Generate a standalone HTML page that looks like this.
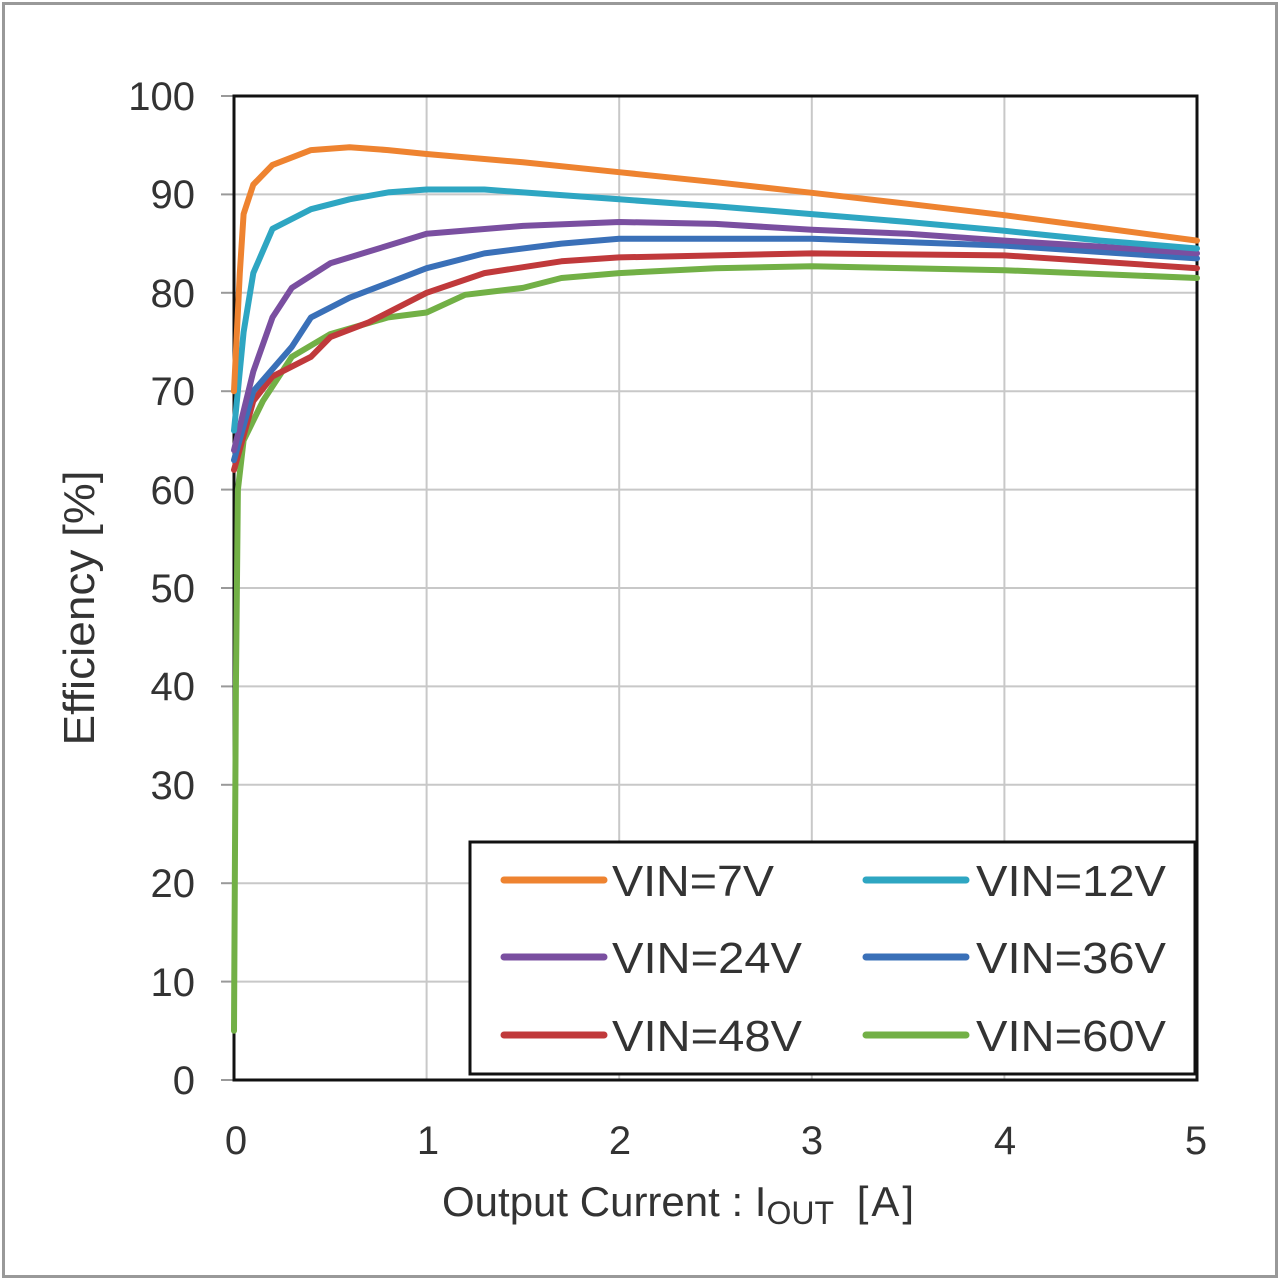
<!DOCTYPE html>
<html><head><meta charset="utf-8"><style>
html,body{margin:0;padding:0;background:#fff}
svg{display:block}
text{font-family:"Liberation Sans",sans-serif;fill:#333}
</style></head><body>
<svg width="1280" height="1280" viewBox="0 0 1280 1280" xmlns="http://www.w3.org/2000/svg">
<rect x="3.5" y="3.5" width="1273" height="1273" fill="#fff" stroke="#999" stroke-width="3"/>
<g stroke="#c8c8c8" stroke-width="2">
<line x1="234" y1="194.4" x2="1197" y2="194.4"/>
<line x1="234" y1="292.8" x2="1197" y2="292.8"/>
<line x1="234" y1="391.2" x2="1197" y2="391.2"/>
<line x1="234" y1="489.6" x2="1197" y2="489.6"/>
<line x1="234" y1="588" x2="1197" y2="588"/>
<line x1="234" y1="686.4" x2="1197" y2="686.4"/>
<line x1="234" y1="784.8" x2="1197" y2="784.8"/>
<line x1="234" y1="883.2" x2="1197" y2="883.2"/>
<line x1="234" y1="981.6" x2="1197" y2="981.6"/>
<line x1="426.6" y1="96" x2="426.6" y2="1080"/>
<line x1="619.2" y1="96" x2="619.2" y2="1080"/>
<line x1="811.8" y1="96" x2="811.8" y2="1080"/>
<line x1="1004.4" y1="96" x2="1004.4" y2="1080"/>
</g>
<g stroke="#999" stroke-width="2">
<line x1="221" y1="96" x2="234" y2="96"/><line x1="221" y1="194.4" x2="234" y2="194.4"/><line x1="221" y1="292.8" x2="234" y2="292.8"/><line x1="221" y1="391.2" x2="234" y2="391.2"/><line x1="221" y1="489.6" x2="234" y2="489.6"/><line x1="221" y1="588" x2="234" y2="588"/><line x1="221" y1="686.4" x2="234" y2="686.4"/><line x1="221" y1="784.8" x2="234" y2="784.8"/><line x1="221" y1="883.2" x2="234" y2="883.2"/><line x1="221" y1="981.6" x2="234" y2="981.6"/><line x1="221" y1="1080" x2="234" y2="1080"/>
</g>
<rect x="234" y="96" width="963" height="984" fill="none" stroke="#111" stroke-width="3"/>
<g fill="none" stroke-width="6" stroke-linejoin="round" stroke-linecap="round">
<polyline stroke="#72b046" points="234,1030.8 235.9,686.4 237.9,489.6 243.6,440.4 262.9,401 291.8,356.8 330.3,334.1 388.1,317.4 426.6,312.5 465.1,294.8 522.9,287.9 561.4,278 619.2,273.1 715.5,268.2 811.8,266.3 908.1,268.2 1004.4,270.2 1197,278"/>
<polyline stroke="#c0393b" points="234,469.9 253.3,401 272.5,376.4 311,356.8 330.3,337.1 368.8,322.3 426.6,292.8 484.4,273.1 561.4,261.3 619.2,257.4 811.8,253.4 1004.4,255.4 1197,268.2"/>
<polyline stroke="#3a70b8" points="234,460.1 253.3,391.2 291.8,346.9 311,317.4 349.6,297.7 388.1,283 426.6,268.2 484.4,253.4 561.4,243.6 619.2,238.7 811.8,238.7 1004.4,245.6 1197,258.4"/>
<polyline stroke="#7a4fa0" points="234,450.2 253.3,371.5 272.5,317.4 291.8,287.9 330.3,263.3 368.8,251.5 426.6,233.8 522.9,225.9 619.2,222 715.5,223.9 811.8,229.8 908.1,233.8 1004.4,240.6 1100.7,246.6 1197,253.4"/>
<polyline stroke="#2ea6c2" points="234,430.6 243.6,332.2 253.3,273.1 272.5,228.8 311,209.2 349.6,199.3 388.1,192.4 426.6,189.5 484.4,189.5 522.9,192.4 619.2,199.3 715.5,206.2 811.8,214.1 908.1,222 1004.4,230.8 1100.7,240.6 1197,248.5"/>
<polyline stroke="#ee8330" points="234,391.2 239.8,273.1 243.6,214.1 253.3,184.6 272.5,164.9 311,150.1 349.6,147.2 388.1,150.1 426.6,154 522.9,162.3 619.2,172.2 715.5,182.2 811.8,192.8 908.1,203.8 1004.4,215.2 1100.7,227.9 1197,240.6"/>
</g>
<rect x="470" y="842" width="725" height="232" fill="#fff" stroke="#111" stroke-width="3"/>
<g stroke-width="7" stroke-linecap="round">
<line x1="504" y1="880" x2="604" y2="880" stroke="#ee8330"/>
<line x1="866" y1="880" x2="966" y2="880" stroke="#2ea6c2"/>
<line x1="504" y1="957" x2="604" y2="957" stroke="#7a4fa0"/>
<line x1="866" y1="957" x2="966" y2="957" stroke="#3a70b8"/>
<line x1="504" y1="1035" x2="604" y2="1035" stroke="#c0393b"/>
<line x1="866" y1="1035" x2="966" y2="1035" stroke="#72b046"/>
</g>
<g font-size="44">
<text x="612" y="896" textLength="162" lengthAdjust="spacingAndGlyphs">VIN=7V</text>
<text x="976" y="896" textLength="190" lengthAdjust="spacingAndGlyphs">VIN=12V</text>
<text x="612" y="973" textLength="190" lengthAdjust="spacingAndGlyphs">VIN=24V</text>
<text x="976" y="973" textLength="190" lengthAdjust="spacingAndGlyphs">VIN=36V</text>
<text x="612" y="1051" textLength="190" lengthAdjust="spacingAndGlyphs">VIN=48V</text>
<text x="976" y="1051" textLength="190" lengthAdjust="spacingAndGlyphs">VIN=60V</text>
</g>
<g font-size="40" text-anchor="end">
<text x="195" y="110">100</text><text x="195" y="208">90</text><text x="195" y="307">80</text><text x="195" y="405">70</text><text x="195" y="504">60</text><text x="195" y="602">50</text><text x="195" y="700">40</text><text x="195" y="799">30</text><text x="195" y="897">20</text><text x="195" y="996">10</text><text x="195" y="1094">0</text>
</g>
<g font-size="40" text-anchor="middle">
<text x="236" y="1154">0</text><text x="428" y="1154">1</text><text x="620" y="1154">2</text><text x="812" y="1154">3</text><text x="1005" y="1154">4</text><text x="1196" y="1154">5</text>
</g>
<text x="0" y="0" font-size="44" text-anchor="middle" transform="translate(94,608) rotate(-90)" textLength="275" lengthAdjust="spacingAndGlyphs">Efficiency [%]</text>
<text x="442" y="1216" font-size="42">Output Current : I<tspan font-size="32" dy="8">OUT</tspan><tspan dy="-8" dx="8" letter-spacing="3"> [A]</tspan></text>
</svg>
</body></html>
